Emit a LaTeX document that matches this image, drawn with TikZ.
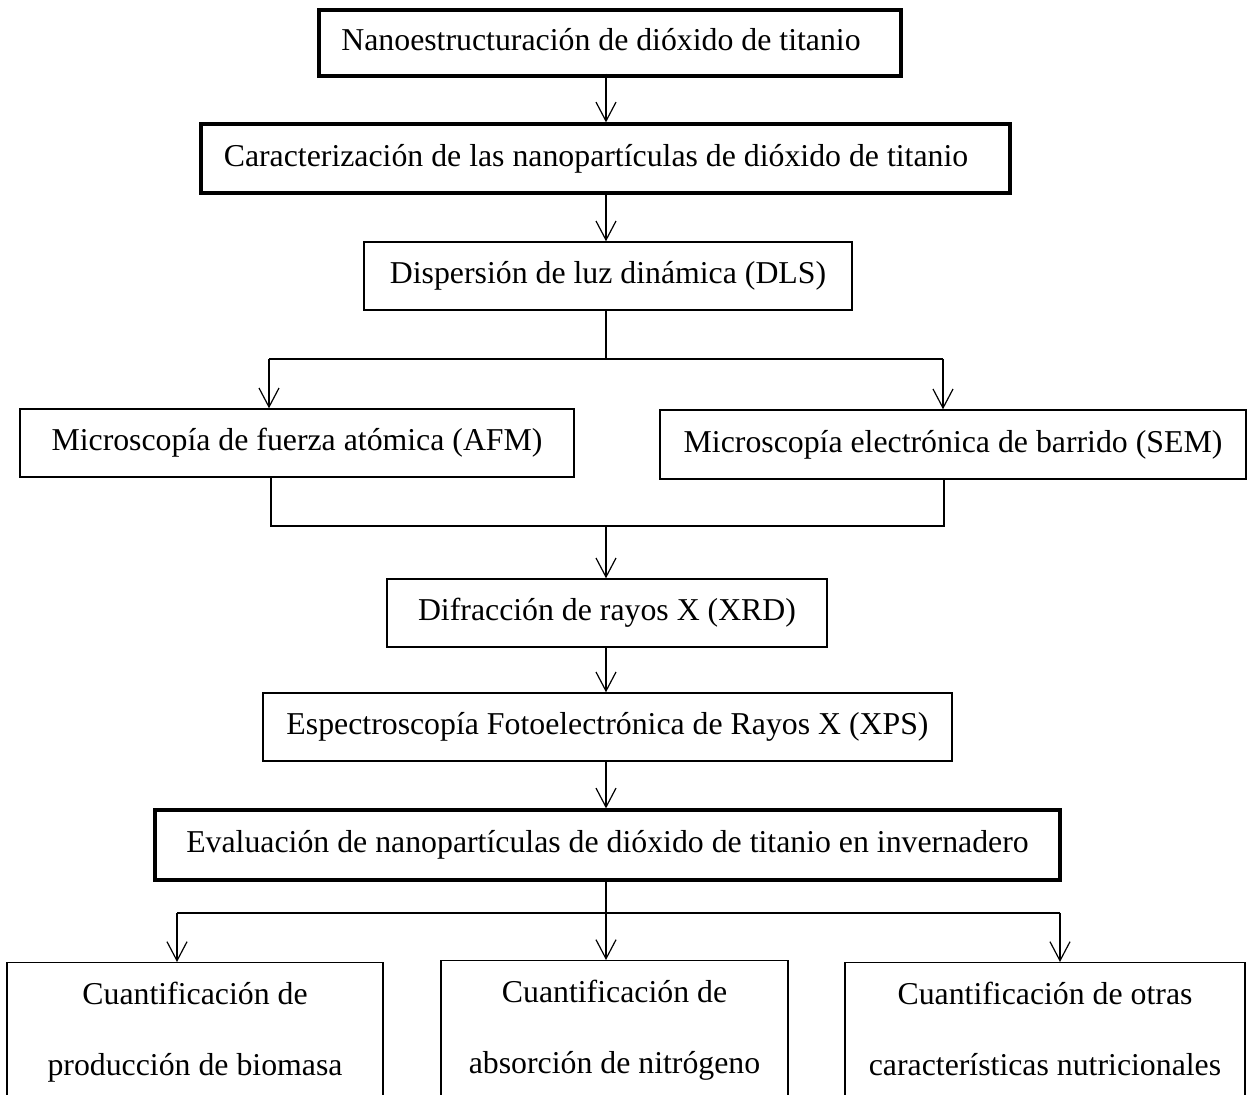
\documentclass[tikz,border=0pt]{standalone}
\usepackage{fontspec}
\setmainfont{Liberation Serif}
\usetikzlibrary{arrows.meta}
\begin{document}
\begin{tikzpicture}[x=0.5pt,y=-0.5pt,
  box/.style={draw, line width=0.7pt, inner sep=0pt, text height=8pt, text depth=0pt, font=\fontsize{15.9}{19}\selectfont},
  thickbox/.style={box, line width=1.6pt},
  conn/.style={line width=0.6pt},
  arr/.style={conn, -{Straight Barb[length=9.5pt,width=10pt]}},
  lbl/.style={inner sep=0pt, anchor=base, font=\fontsize{15.9}{19}\selectfont}]
\clip (0,0) rectangle (1248,1095);
\fill[white] (0,0) rectangle (1248,1095);

\node[thickbox, minimum width=291pt, minimum height=33pt] (n1) at (610,43) {Nanoestructuración de dióxido de titanio\hspace*{9pt}};
\node[thickbox, minimum width=404.5pt, minimum height=34.5pt] (n2) at (605.5,158.5) {Caracterización de las nanopartículas de dióxido de titanio\hspace*{9.5pt}};
\node[box, minimum width=244pt, minimum height=34pt] (dls) at (608,276) {Dispersión de luz dinámica (DLS)};
\node[box, minimum width=277pt, minimum height=34pt] (afm) at (297,443) {Microscopía de fuerza atómica (AFM)};
\node[box, minimum width=293pt, minimum height=34.5pt] (sem) at (953,444.5) {Microscopía electrónica de barrido (SEM)};
\node[box, minimum width=220pt, minimum height=34pt] (xrd) at (607,613) {Difracción de rayos X (XRD)};
\node[box, minimum width=344.5pt, minimum height=34pt] (xps) at (607.5,727) {Espectroscopía Fotoelectrónica de Rayos X (XPS)};
\node[thickbox, minimum width=452.5pt, minimum height=35pt] (ev) at (607.5,845) {Evaluación de nanopartículas de dióxido de titanio en invernadero};

\node[box, minimum width=188pt, minimum height=80pt, anchor=north] (qa) at (195,962) {};
\node[box, minimum width=173.5pt, minimum height=80pt, anchor=north] (qb) at (614.5,960) {};
\node[box, minimum width=200pt, minimum height=80pt, anchor=north] (qc) at (1045,962) {};

\node[lbl] (qa1) at (195,1004) {Cuantificación de};
\node[lbl] (qa2) at (195,1075) {producción de biomasa};
\node[lbl] (qb1) at (614.5,1002) {Cuantificación de};
\node[lbl] (qb2) at (614.5,1073) {absorción de nitrógeno};
\node[lbl] (qc1) at (1045,1004) {Cuantificación de otras};
\node[lbl] (qc2) at (1045,1075) {características nutricionales};

\coordinate (tr) at (606,0);
\draw[arr] ([yshift=2pt]n1.south -| tr) -- (n2.north -| tr);
\draw[arr] (n2.south -| tr) -- (dls.north -| tr);

\coordinate (f1) at (606,359);
\coordinate (fl) at (269,359);
\coordinate (fr) at (943,359);
\draw[conn] (dls.south -| tr) -- (f1);
\draw[conn] (fl) -- (fr);
\draw[arr] (fl) -- (afm.north -| fl);
\draw[arr] (fr) -- (sem.north -| fr);

\coordinate (jl) at (271,526);
\coordinate (jr) at (944,526);
\coordinate (j) at (606,526);
\draw[conn] (afm.south -| jl) -- (jl) -- (jr) -- (sem.south -| jr);
\draw[arr] (j) -- (xrd.north -| tr);
\draw[arr] (xrd.south -| tr) -- (xps.north -| tr);
\draw[arr] (xps.south -| tr) -- (ev.north -| tr);

\coordinate (g) at (606,913);
\coordinate (gl) at (177,913);
\coordinate (gr) at (1060,913);
\draw[conn] (ev.south -| tr) -- (g);
\draw[conn] (gl) -- (gr);
\draw[arr] (gl) -- (qa.north -| gl);
\draw[arr] (g) -- (qb.north -| g);
\draw[arr] (gr) -- (qc.north -| gr);
\end{tikzpicture}
\end{document}
